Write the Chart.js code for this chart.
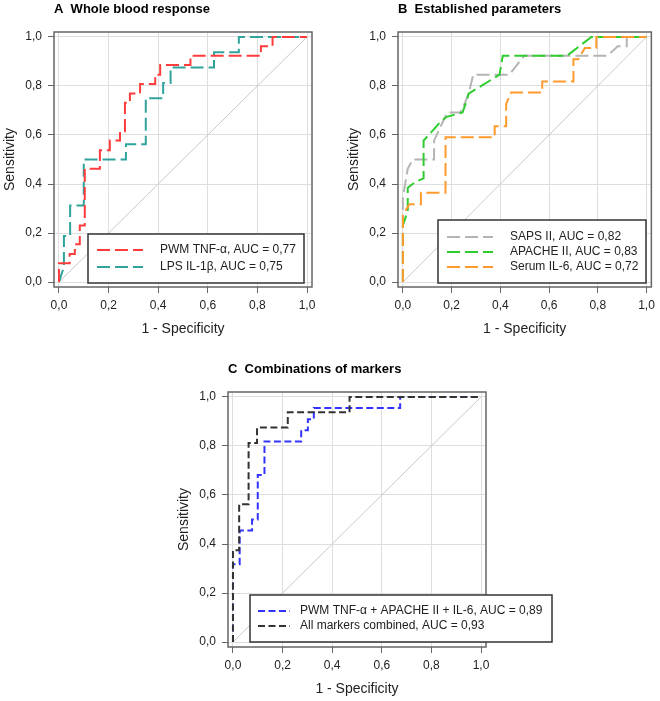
<!DOCTYPE html>
<html>
<head>
<meta charset="utf-8">
<script src="https://cdn.jsdelivr.net/npm/chart.js@4/dist/chart.umd.min.js"></script>
<style>
  html, body { margin: 0; padding: 0; background: #fff; overflow: hidden; }
  body { width: 660px; height: 701px; position: relative; }
  canvas { position: absolute; }
</style>
</head>
<body>
<canvas id="chartA" width="330" height="340" style="left:0;top:0"></canvas>
<canvas id="chartB" width="316" height="340" style="left:344px;top:0"></canvas>
<canvas id="chartC" width="420" height="340" style="left:174px;top:360px"></canvas>
<script>
const tickValues = [0, 0.2, 0.4, 0.6, 0.8, 1]
const refFpr = [0, 1]
const refTpr = [0, 1]

// A  whole blood response
const tnfFpr = [0, 0, 0.043, 0.043, 0.064, 0.064, 0.084, 0.084, 0.104, 0.104, 0.165, 0.165, 0.205, 0.205, 0.246, 0.246, 0.266, 0.266, 0.286, 0.286, 0.327, 0.327, 0.388, 0.388, 0.408, 0.408, 0.53, 0.53, 0.814, 0.814, 0.861, 0.861, 1]
const tnfTpr = [0, 0.077, 0.077, 0.115, 0.115, 0.154, 0.154, 0.231, 0.231, 0.462, 0.462, 0.538, 0.538, 0.577, 0.577, 0.615, 0.615, 0.731, 0.731, 0.769, 0.769, 0.808, 0.808, 0.846, 0.846, 0.885, 0.885, 0.923, 0.923, 0.962, 0.962, 1, 1]
const il1bFpr = [0, 0.02, 0.02, 0.045, 0.045, 0.1, 0.1, 0.27, 0.27, 0.35, 0.35, 0.42, 0.42, 0.45, 0.45, 0.625, 0.625, 0.725, 0.725, 1]
const il1bTpr = [0, 0.0625, 0.1875, 0.1875, 0.3125, 0.3125, 0.5, 0.5, 0.5625, 0.5625, 0.75, 0.75, 0.8125, 0.8125, 0.875, 0.875, 0.9375, 0.9375, 1, 1]

// B  established parameters
const sapsFpr = [0, 0, 0.02, 0.04, 0.128, 0.128, 0.148, 0.182, 0.235, 0.255, 0.27, 0.289, 0.437, 0.498, 0.84, 0.882, 0.919, 0.919, 1]
const sapsTpr = [0, 0.346, 0.462, 0.5, 0.5, 0.577, 0.62, 0.692, 0.692, 0.731, 0.769, 0.846, 0.846, 0.923, 0.923, 0.962, 0.962, 1, 1]
const apacheFpr = [0, 0, 0.02, 0.02, 0.054, 0.085, 0.085, 0.155, 0.18, 0.245, 0.262, 0.27, 0.397, 0.41, 0.673, 0.774, 1]
const apacheTpr = [0, 0.231, 0.29, 0.385, 0.41, 0.423, 0.577, 0.654, 0.674, 0.692, 0.74, 0.769, 0.846, 0.923, 0.923, 1, 1]
const il6Fpr = [0, 0, 0.027, 0.074, 0.074, 0.175, 0.175, 0.377, 0.377, 0.424, 0.424, 0.444, 0.572, 0.572, 0.7, 0.7, 0.72, 0.747, 0.794, 0.794, 1]
const il6Tpr = [0, 0.273, 0.318, 0.318, 0.364, 0.364, 0.591, 0.591, 0.636, 0.636, 0.727, 0.773, 0.773, 0.818, 0.818, 0.909, 0.909, 0.955, 0.955, 1, 1]

// C  combinations of markers
const comboFpr = [0, 0, 0.027, 0.027, 0.077, 0.077, 0.1, 0.1, 0.127, 0.127, 0.275, 0.275, 0.302, 0.302, 0.326, 0.326, 0.674, 0.674, 1]
const comboTpr = [0, 0.318, 0.318, 0.455, 0.455, 0.5, 0.5, 0.682, 0.682, 0.818, 0.818, 0.864, 0.864, 0.909, 0.909, 0.955, 0.955, 1, 1]
const allFpr = [0, 0, 0.025, 0.025, 0.063, 0.063, 0.097, 0.097, 0.221, 0.221, 0.47, 0.47, 1]
const allTpr = [0, 0.375, 0.375, 0.5625, 0.5625, 0.8125, 0.8125, 0.875, 0.875, 0.9375, 0.9375, 1, 1]

Chart.defaults.font.family = '"Liberation Sans", Arial, sans-serif'

function toPoints(xs, ys) {
    return xs.map((x, i) => ({ x: x, y: ys[i] }))
}

function curve(label, xs, ys, color, dash, order) {
    return {
        label: label,
        data: toPoints(xs, ys),
        showLine: true,
        borderColor: color,
        borderWidth: 2,
        borderDash: dash,
        pointRadius: 0,
        tension: 0,
        order: order
    }
}

function refLine() {
    return {
        label: '',
        data: toPoints(refFpr, refTpr),
        showLine: true,
        borderColor: '#c8c8c8',
        borderWidth: 1,
        pointRadius: 0,
        order: 99
    }
}

// box round the plot area
const frame = {
    id: 'frame',
    afterDatasetsDraw(chart) {
        const a = chart.chartArea
        const ctx = chart.ctx
        ctx.save()
        ctx.strokeStyle = '#666'
        ctx.lineWidth = 1.5
        ctx.strokeRect(a.left, a.top, a.right - a.left, a.bottom - a.top)
        ctx.restore()
    }
}

// legend drawn as a boxed inset
const boxLegend = {
    id: 'boxLegend',
    afterDraw(chart, args, opts) {
        const ctx = chart.ctx
        ctx.save()
        ctx.fillStyle = '#fff'
        ctx.fillRect(opts.x, opts.y, opts.w, opts.h)
        ctx.strokeStyle = '#333'
        ctx.lineWidth = 1.5
        ctx.strokeRect(opts.x, opts.y, opts.w, opts.h)
        const items = chart.data.datasets.filter(d => d.label)
        items.forEach((d, i) => {
            const y = opts.row + i * opts.gap
            ctx.strokeStyle = d.borderColor
            ctx.lineWidth = 2
            ctx.setLineDash(d.borderDash)
            ctx.beginPath()
            ctx.moveTo(opts.lineX, y)
            ctx.lineTo(opts.lineX + opts.lineW, y)
            ctx.stroke()
            ctx.setLineDash([])
            ctx.fillStyle = '#222'
            ctx.font = '12px "Liberation Sans", Arial, sans-serif'
            ctx.textBaseline = 'middle'
            ctx.fillText(d.label, opts.textX, y)
        })
        ctx.restore()
    }
}

function axis(titleText, position) {
    const left = position === 'left'
    return {
        type: 'linear',
        position: position,
        min: -0.02,
        max: 1.02,
        afterBuildTicks: ax => { ax.ticks = tickValues.map(v => ({ value: v })) },
        afterFit: ax => { if (left) ax.width = 54; else ax.height = 53 },
        grid: { color: '#dedede', lineWidth: 1, tickLength: 6, tickColor: '#666', tickWidth: 1 },
        border: { display: false },
        ticks: {
            color: '#222',
            font: { size: 12 },
            padding: left ? 6 : 5,
            maxRotation: 0,
            autoSkip: false,
            callback: v => v.toFixed(1).replace('.', ',')
        },
        title: { display: true, text: titleText, color: '#222', font: { size: 14 }, padding: { top: 2, bottom: 2 } }
    }
}

function makeRoc(id, title, datasets, legend) {
    const canvas = document.getElementById(id)
    return new Chart(canvas.getContext('2d'), {
        type: 'scatter',
        data: { datasets: datasets.concat([refLine()]) },
        options: {
            responsive: false,
            animation: false,
            events: [],
            layout: { padding: { top: 0, left: 0, bottom: 0, right: canvas.width - 312 } },
            scales: {
                x: axis('1 - Specificity', 'bottom'),
                y: axis('Sensitivity', 'left')
            },
            plugins: {
                legend: { display: false },
                tooltip: { enabled: false },
                title: {
                    display: true,
                    text: title,
                    align: 'start',
                    fullSize: false,
                    color: '#000',
                    font: { size: 13, weight: 'bold' },
                    padding: { top: 2, bottom: 14.4 }
                },
                boxLegend: legend
            }
        },
        plugins: [frame, boxLegend]
    })
}

const longDash = [13, 5]
const shortDash = [7, 3.5]

makeRoc('chartA', 'A  Whole blood response', [
    curve('PWM TNF-\u03b1, AUC = 0,77', tnfFpr, tnfTpr, '#ff3b3b', longDash, 1),
    curve('LPS IL-1\u03b2, AUC = 0,75', il1bFpr, il1bTpr, '#2fa39c', longDash, 2)
], { x: 88, y: 234, w: 216, h: 49, row: 250, gap: 17, lineX: 97, lineW: 46, textX: 160 })

makeRoc('chartB', 'B  Established parameters', [
    curve('SAPS II, AUC = 0,82', sapsFpr, sapsTpr, '#b4b4b4', longDash, 3),
    curve('APACHE II, AUC = 0,83', apacheFpr, apacheTpr, '#2ecc2e', longDash, 2),
    curve('Serum IL-6, AUC = 0,72', il6Fpr, il6Tpr, '#ff9a2e', longDash, 1)
], { x: 94, y: 220, w: 208, h: 63, row: 237, gap: 15, lineX: 103, lineW: 46, textX: 166 })

makeRoc('chartC', 'C  Combinations of markers', [
    curve('PWM TNF-\u03b1 + APACHE II + IL-6, AUC = 0,89', comboFpr, comboTpr, '#3333ff', shortDash, 2),
    curve('All markers combined, AUC = 0,93', allFpr, allTpr, '#333333', shortDash, 1)
], { x: 76, y: 235, w: 302, h: 47, row: 251, gap: 15, lineX: 84, lineW: 32, textX: 126 })
</script>
</body>
</html>
